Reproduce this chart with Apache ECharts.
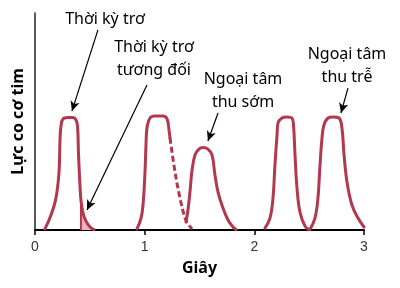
<!DOCTYPE html>
<html><head><meta charset="utf-8">
<script src="https://cdn.jsdelivr.net/npm/echarts@6/dist/echarts.min.js"></script>
<style>html,body{margin:0;padding:0;background:#fff}#c{width:400px;height:288px}</style>
</head><body><div id="c"></div>
<script>
// Data (x in seconds, y in relative force units)
const beat1 = [[0.091,0.5],[0.146,6.9],[0.191,14.7],[0.219,26.7],[0.228,41.5],[0.237,47.9],[0.255,51.2],[0.301,51.8],[0.347,51.8],[0.374,50.7],[0.388,47.9],[0.397,34.6],[0.410,20.7],[0.419,13.8],[0.438,7.8],[0.465,4.1],[0.502,1.4],[0.538,0.2]];
const relRefractory = [[0.419,13.8],[0.438,7.8],[0.465,4.1],[0.502,1.4],[0.538,0.2]];
const refractoryEdge = [[0.419,0],[0.419,13.8]];
const beat2 = [[0.930,0.5],[0.967,5.5],[0.985,11.5],[1.003,26.7],[1.012,39.2],[1.021,47.0],[1.049,51.6],[1.094,52.5],[1.167,52.5],[1.204,51.2],[1.222,46.1],[1.231,42.4]];
const beat2Missed = [[1.231,42.4],[1.277,26.7],[1.322,14.7],[1.368,5.5],[1.395,2.8],[1.432,0.5]];
const beat3 = [[1.377,3.7],[1.395,9.2],[1.413,17.5],[1.432,27.6],[1.459,34.6],[1.495,37.3],[1.532,38.0],[1.577,37.3],[1.614,34.6],[1.641,25.3],[1.669,17.5],[1.714,10.1],[1.760,4.6],[1.805,1.4],[1.833,0.2]];
const beat4 = [[2.097,0.9],[2.143,5.5],[2.170,14.7],[2.188,30.0],[2.207,43.8],[2.216,49.3],[2.252,51.6],[2.298,52.1],[2.343,51.6],[2.357,48.4],[2.371,34.6],[2.389,19.4],[2.416,8.3],[2.462,1.8],[2.498,0.2]];
const beat5 = [[2.507,0.2],[2.553,5.5],[2.580,14.7],[2.599,30.0],[2.617,42.4],[2.635,48.4],[2.672,51.6],[2.717,52.1],[2.772,51.6],[2.799,47.0],[2.818,34.6],[2.845,22.1],[2.890,11.5],[2.945,5.5],[3.0,1.4]];
const xTicks = [0,1,2,3];
const arrows = [
  [[0.574,92.2],[0.337,54.8]],
  [[1.021,66.8],[0.474,9.2]],
  [[1.669,53.9],[1.577,41.0]],
  [[2.854,65.4],[2.790,53.9]]
];
const labels = ['Thời kỳ trơ','Thời kỳ trơ\ntương đối','Ngoại tâm\nthu sớm','Ngoại tâm\nthu trễ'];

const RED = '#b3374f';
const chart = echarts.init(document.getElementById('c'), null, {renderer:'canvas'});
const curve = (data, extra) => Object.assign({
  type:'line', data, showSymbol:false, smooth:0.4,
  lineStyle:{color:RED,width:3,cap:'round',join:'round'}, itemStyle:{color:RED}, z:3, silent:true, animation:false
}, extra||{});
const FONT = 'Noto Sans';
const txt = (s, x, y) => ({type:'text', x, y, style:{text:s, font:'16px "'+FONT+'"', fill:'#000', align:'center', verticalAlign:'middle', lineHeight:23}});
chart.setOption({
  animation:false,
  grid:{left:35,right:36,top:13,bottom:58},
  xAxis:{type:'value',min:0,max:3,interval:1,
    name:'Giây',nameLocation:'middle',nameGap:30,
    nameTextStyle:{fontFamily:FONT,fontWeight:'bold',fontSize:16,color:'#000'},
    axisLine:{lineStyle:{color:'#000',width:2}},
    axisTick:{show:true,length:5,lineStyle:{color:'#000',width:1.5}},
    axisLabel:{fontFamily:'Liberation Sans',fontSize:14,color:'#333',margin:10,formatter:v=>xTicks.includes(v)?String(v):''},
    splitLine:{show:false}},
  yAxis:{type:'value',min:0,max:100,
    name:'Lực co cơ tim',nameLocation:'middle',nameRotate:90,nameGap:9,
    nameTextStyle:{fontFamily:FONT,fontWeight:'bold',fontSize:16,color:'#000'},
    axisLine:{show:true,lineStyle:{color:'#222',width:1.5}},
    axisTick:{show:false},axisLabel:{show:false},splitLine:{show:false}},
  series:[
    curve(relRefractory,{lineStyle:{width:0},areaStyle:{color:'#ecb3ba',opacity:1},z:2}),
    curve(refractoryEdge,{smooth:false,lineStyle:{color:RED,width:2}}),
    curve(beat1),
    curve(beat2),
    curve(beat2Missed,{lineStyle:{color:RED,width:3,type:[6,3]}}),
    curve(beat3),
    curve(beat4),
    curve(beat5),
    {type:'line',data:[],silent:true,
      markLine:{silent:true,symbol:['none','arrow'],symbolSize:[7,10],animation:false,
        lineStyle:{color:'#000',width:1.2,type:'solid'},label:{show:false},
        data:arrows.map(a=>[{coord:a[0]},{coord:a[1]}])}}
  ],
  graphic:[
    txt(labels[0],105,19),
    txt(labels[1],154,59),
    txt(labels[2],243,91),
    txt(labels[3],347,66)
  ]
});
</script></body></html>
